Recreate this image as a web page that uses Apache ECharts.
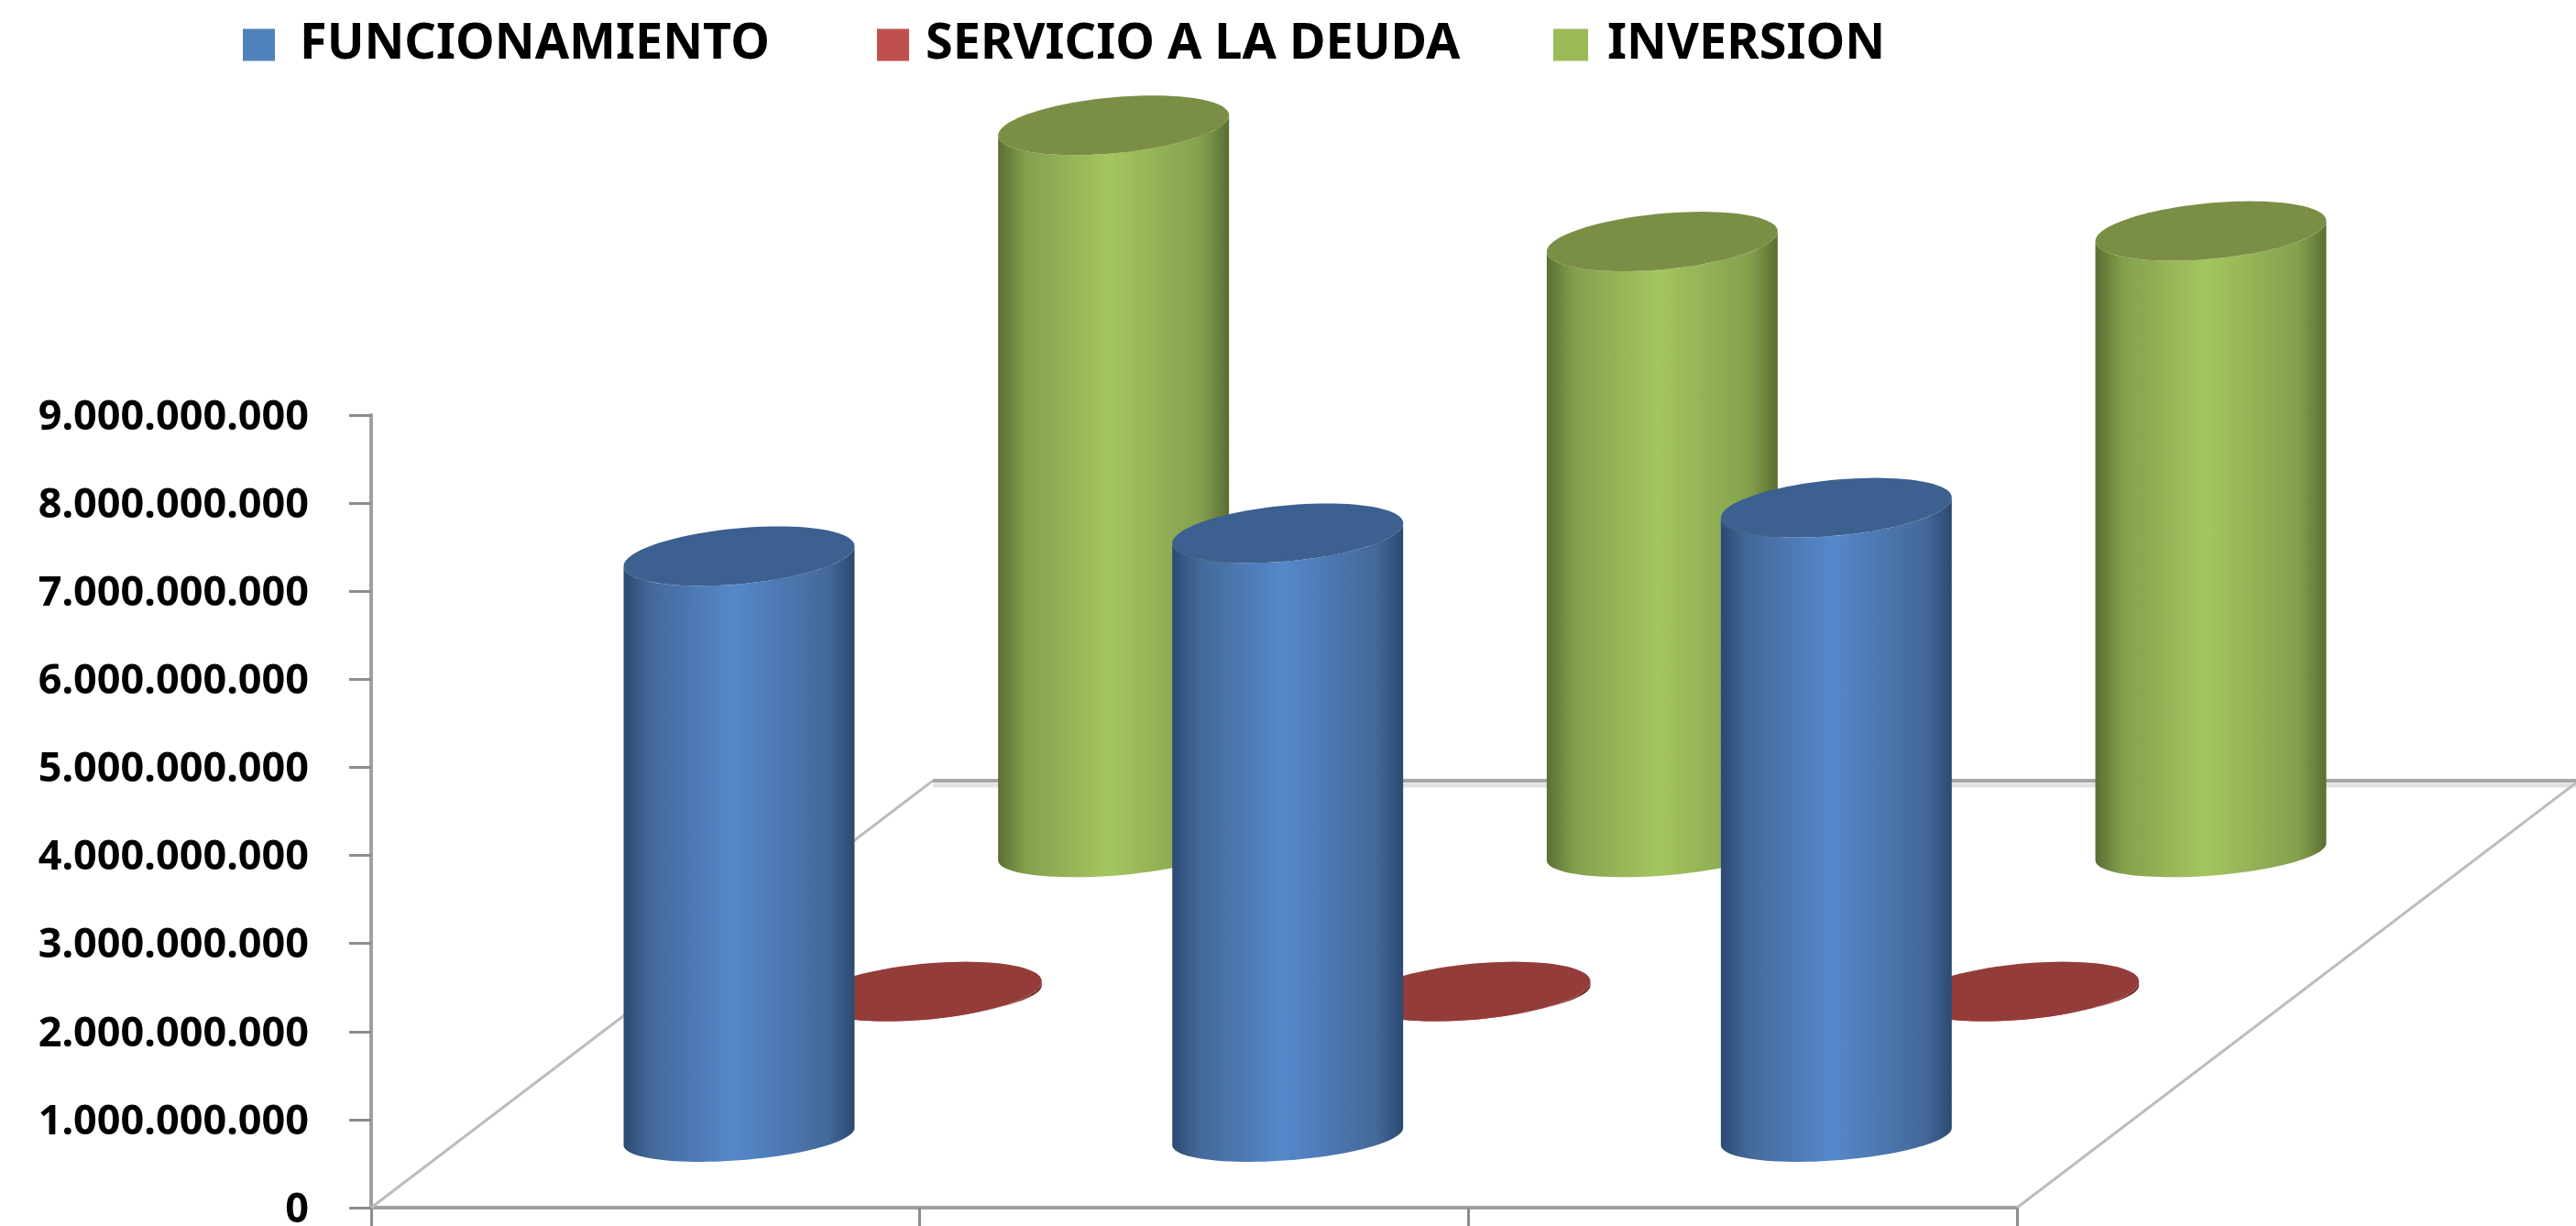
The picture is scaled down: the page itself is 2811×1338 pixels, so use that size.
<!DOCTYPE html>
<html lang="es">
<head>
    <meta charset="UTF-8">
    <title>Cilindros</title>
    <script src="https://cdn.jsdelivr.net/npm/echarts@6/dist/echarts.min.js"></script>
    <style>
        html, body { margin: 0; padding: 0; background: #fff; }
        #main { width: 2811px; height: 1338px; }
    </style>
</head>
<body>
<div id="main"></div>

<script>
    // data
    var categories = ['1', '2', '3'];
    var funcionamiento = [6590000000, 6850000000, 7140000000];
    var servicio = [30000000, 30000000, 30000000];
    var inversion = [8250000000, 6930000000, 7050000000];
    var yTicks = 1000000000;

    var myChart = echarts.init(document.getElementById('main'));

    // floor of the 3d box, as a fraction of the plot height
    var shearY = 466 / 865;
    var shearRatio = 613 / 466;
    // disc shape, as a fraction of one category width
    var discA = 118.5 / 598.7;
    var discVx = 42.8 / 598.7;
    var discVy = 32.5 / 598.7;
    // lower rim looks a bit flatter than the cap
    var bottomFlat = 0.85;

    function gradient(edge, mid, light) {
        return {
            type: 'linear', x: 0, y: 0, x2: 1, y2: 0,
            colorStops: [
                { offset: 0, color: edge },
                { offset: 0.12, color: mid },
                { offset: 0.48, color: light },
                { offset: 0.88, color: mid },
                { offset: 1, color: edge }
            ]
        };
    }

    function cylinder(row, colors) {
        return function (params, api) {
            var base = api.coord([api.value(0), 0]);
            var top = api.coord([api.value(0), api.value(1)]);
            var size = api.size([1, 9 * yTicks]);
            var depth = (row + 0.5) / 3;
            var dy = size[1] * shearY * depth;
            var dx = dy * shearRatio;
            var cx = base[0] + dx;
            var by = base[1] - dy;
            var ty = top[1] - dy;
            var a = size[0] * discA, vx = size[0] * discVx, vy = size[0] * discVy;
            var t0 = Math.atan2(vx, a);

            function disc(y, from, to, n, flat) {
                var pts = [];
                for (var i = 0; i <= n; i++) {
                    var t = from + (to - from) * i / n;
                    pts.push([cx + a * Math.cos(t) + vx * Math.sin(t), y - vy * flat * Math.sin(t)]);
                }
                return pts;
            }

            // side wall: lower half of the bottom disc, then up to the top disc
            var side = disc(by, t0, t0 - Math.PI, 48, bottomFlat).concat(disc(ty, t0 - Math.PI, t0, 48, 1));
            var cap = disc(ty, 0, Math.PI * 2, 96, 1);

            return {
                type: 'group',
                children: [
                    {
                        type: 'polygon',
                        shape: { points: side },
                        style: { fill: gradient(colors[0], colors[1], colors[2]) }
                    },
                    {
                        type: 'polygon',
                        shape: { points: cap },
                        style: { fill: colors[3] }
                    }
                ]
            };
        };
    }

    function renderFloor(params, api) {
        var box = params.coordSys;
        var fy = box.y + box.height;
        var flx = box.x;
        var frx = box.x + box.width;
        var dy = box.height * shearY;
        var dx = dy * shearRatio;
        var line = function (x1, y1, x2, y2, color, width) {
            return {
                type: 'line',
                shape: { x1: x1, y1: y1, x2: x2, y2: y2 },
                style: { stroke: color, lineWidth: width }
            };
        };
        return {
            type: 'group',
            children: [
                line(flx + dx, fy - dy + 5, frx + dx, fy - dy + 5, '#e2e2e2', 5),
                line(flx, fy, flx + dx, fy - dy, '#bdbdbd', 3),
                line(flx + dx, fy - dy, frx + dx, fy - dy, '#a6a6a6', 4),
                line(frx, fy, frx + dx, fy - dy, '#bdbdbd', 3)
            ]
        };
    }

    function toPairs(arr) {
        return arr.map(function (v, i) { return [i, v]; });
    }

    function legendAt(left, name, gap) {
        return {
            left: left,
            top: 22,
            data: [name],
            icon: 'rect',
            itemWidth: name === 'INVERSION' ? 38 : 35,
            itemHeight: 35,
            selectedMode: false,
            padding: 0,
            textStyle: {
                fontFamily: 'Noto Sans',
                fontWeight: 'bold',
                fontSize: 54,
                color: '#000',
                lineHeight: 35,
                padding: [0, 0, 15, gap]
            }
        };
    }

    var option = {
        animation: false,
        backgroundColor: '#fff',
        legend: [
            legendAt(265, 'FUNCIONAMIENTO', 22),
            legendAt(957, 'SERVICIO A LA DEUDA', 13),
            legendAt(1695, 'INVERSION', 16)
        ],
        grid: { left: 405, right: 610, top: 453, bottom: 20, outerBoundsMode: 'none' },
        xAxis: {
            type: 'category',
            data: categories,
            axisLine: { lineStyle: { color: '#a0a0a0', width: 4 } },
            axisTick: { show: true, length: 20, lineStyle: { color: '#8c8c8c', width: 3 } },
            axisLabel: { show: false }
        },
        yAxis: {
            type: 'value',
            min: 0,
            max: 9 * yTicks,
            interval: yTicks,
            splitLine: { show: false },
            axisLine: { show: true, lineStyle: { color: '#a0a0a0', width: 4 } },
            axisTick: { show: true, length: 24, lineStyle: { color: '#8c8c8c', width: 3 } },
            axisLabel: {
                margin: 68,
                fontFamily: 'Noto Sans',
                fontWeight: 'bold',
                fontSize: 45,
                color: '#000',
                verticalAlign: 'top',
                lineHeight: 6,
                formatter: function (v) {
                    return String(v).replace(/\B(?=(\d{3})+$)/g, '.');
                }
            }
        },
        series: [
            {
                name: 'FUNCIONAMIENTO',
                type: 'custom',
                z: 5,
                itemStyle: { color: '#4f81bd' },
                encode: { x: 0, y: 1 },
                data: toPairs(funcionamiento),
                renderItem: cylinder(0, ['#2c4a72', '#44699a', '#5588cb', '#3c6090'])
            },
            {
                name: 'SERVICIO A LA DEUDA',
                type: 'custom',
                z: 4,
                itemStyle: { color: '#c0504d' },
                encode: { x: 0, y: 1 },
                data: toPairs(servicio),
                renderItem: cylinder(1, ['#6e2a28', '#94403d', '#c0504d', '#943c3a'])
            },
            {
                name: 'INVERSION',
                type: 'custom',
                z: 3,
                itemStyle: { color: '#9bbb59' },
                encode: { x: 0, y: 1 },
                data: toPairs(inversion),
                renderItem: cylinder(2, ['#5a6e32', '#84a04e', '#a4c65f', '#7a8f45'])
            },
            {
                name: 'piso',
                type: 'custom',
                z: 1,
                silent: true,
                data: [[0, 0]],
                encode: { x: 0, y: 1 },
                renderItem: renderFloor
            }
        ]
    };

    myChart.setOption(option);
</script>
</body>
</html>
